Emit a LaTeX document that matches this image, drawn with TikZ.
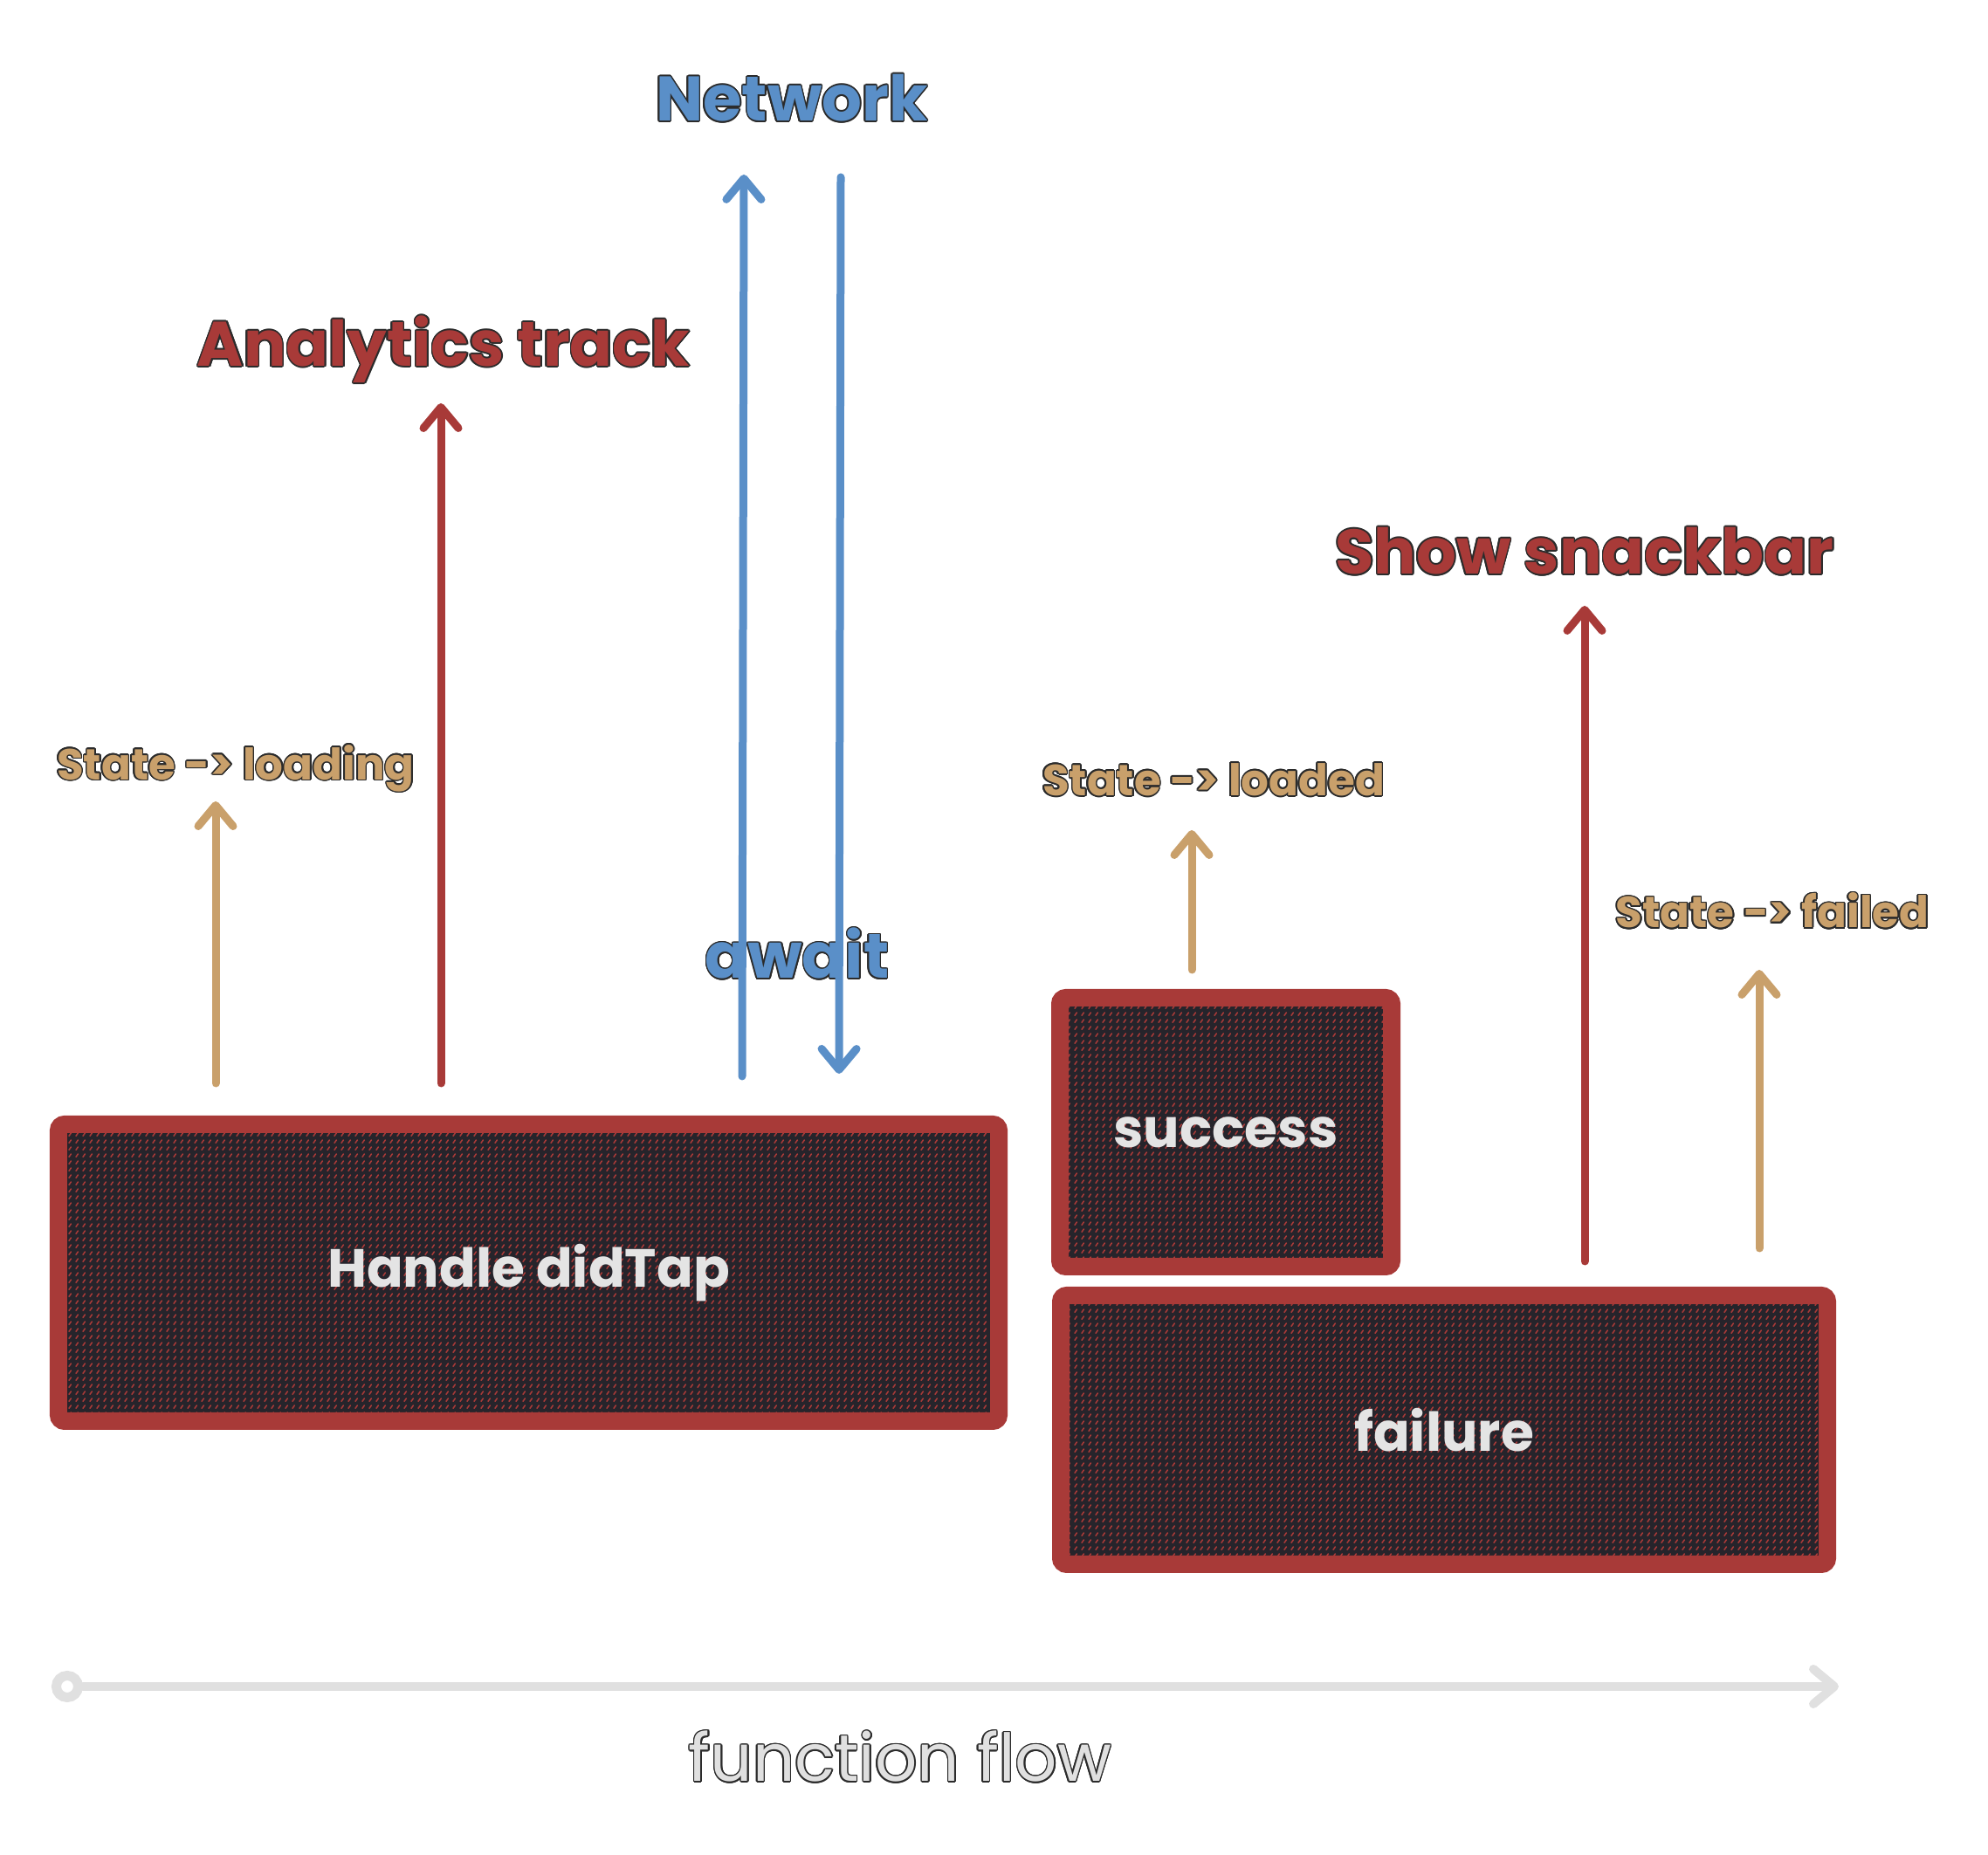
\documentclass[tikz,border=0pt]{standalone}
\usepackage{fontspec}
\setmainfont{Poppins}
\usepackage{contour}
\usetikzlibrary{arrows.meta, patterns.meta}
\definecolor{boxred}{HTML}{A83A38}
\definecolor{boxdark}{HTML}{26242B}
\definecolor{boxtext}{HTML}{E4E4E4}
\definecolor{netblue}{HTML}{5A8FC8}
\definecolor{statetan}{HTML}{C9A06B}
\definecolor{flowgray}{HTML}{E0E0E0}
\definecolor{inkline}{HTML}{2B2B2B}
\contourlength{0.45pt}
\newcommand{\outl}[1]{\contour{inkline}{#1}}

\tikzdeclarepattern{
  name=hatchdash, type=uncolored,
  bounding box={(0pt,0pt) and (2.2pt,2.2pt)},
  tile size={(2.2pt,2.2pt)},
  code={\draw[line width=0.45pt, line cap=round] (0.6pt,0.5pt) -- (1.3pt,1.5pt);}
}

\begin{document}
\begin{tikzpicture}[
    blockbox/.style={draw=boxred, line width=0.2cm, rounded corners=2pt, fill=boxdark,
      postaction={pattern=hatchdash, pattern color=boxred},
      text=boxtext, inner sep=0pt, font=\fontsize{17.5}{20}\selectfont\bfseries},
    biglabel/.style={inner sep=0pt, font=\fontsize{20.5}{23}\selectfont\bfseries},
    statelabel/.style={inner sep=0pt, text=statetan, font=\fontsize{14.2}{16}\selectfont\bfseries},
    flowlabel/.style={inner sep=0pt, text=flowgray, font=\fontsize{21.5}{24}\selectfont},
    flowarrow/.style={line width=0.09cm, line cap=round, -{Straight Barb[round, length=0.24cm, width=0.4cm]}},
  ]
    \useasboundingbox (0,0) rectangle (22.77,21.25);

    % the three blocks
    \node[blockbox, minimum width=10.77cm, minimum height=3.40cm] (handle) at (6.055, 6.67) {Handle didTap};
    \node[blockbox, minimum width=3.80cm, minimum height=3.08cm] (success) at (14.04, 8.28) {success};
    \node[blockbox, minimum width=8.78cm, minimum height=3.08cm] (failure) at (16.54, 4.87) {failure};

    % labels
    \node[biglabel, text=netblue] (network) at (9.07, 20.12) {\outl{Network}};
    \node[biglabel, text=netblue] (await) at (9.13, 10.32) {\outl{await}};
    \node[biglabel, text=boxred] (analytics) at (5.08, 17.24) {\outl{Analytics track}};
    \node[biglabel, text=boxred] (snackbar) at (18.15, 14.93) {\outl{Show snackbar}};
    \node[statelabel] (loading) at (2.70, 12.44) {\outl{State -> loading}};
    \node[statelabel] (loaded) at (13.90, 12.31) {\outl{State -> loaded}};
    \node[statelabel] (failed) at (20.30, 10.81) {\outl{State -> failed}};

    % arrow ends
    \coordinate (loadingfoot) at (2.47, 8.84);
    \coordinate (loadingtip) at (2.47, 12.07);
    \coordinate (analyticsfoot) at (5.05, 8.84);
    \coordinate (analyticstip) at (5.05, 16.63);
    \coordinate (callfoot) at (8.50, 8.92);
    \coordinate (calltip) at (8.52, 19.25);
    \coordinate (replyfoot) at (9.63, 19.22);
    \coordinate (replytip) at (9.61, 8.95);
    \coordinate (loadedfoot) at (13.65, 10.14);
    \coordinate (loadedtip) at (13.65, 11.74);
    \coordinate (snackbarfoot) at (18.15, 6.80);
    \coordinate (snackbartip) at (18.15, 14.31);
    \coordinate (failedfoot) at (20.15, 6.95);
    \coordinate (failedtip) at (20.15, 10.14);

    \draw[flowarrow, statetan] (loadingfoot) -- (loadingtip);
    \draw[flowarrow, boxred] (analyticsfoot) -- (analyticstip);
    \draw[flowarrow, netblue] (callfoot) -- (calltip);
    \draw[flowarrow, netblue] (replyfoot) -- (replytip);
    \draw[flowarrow, statetan] (loadedfoot) -- (loadedtip);
    \draw[flowarrow, boxred] (snackbarfoot) -- (snackbartip);
    \draw[flowarrow, statetan] (failedfoot) -- (failedtip);

    % function flow axis
    \node[circle, draw=flowgray, line width=0.11cm, minimum size=0.25cm, inner sep=0pt] (flowstart) at (0.77, 1.93) {};
    \coordinate (flowend) at (21.06, 1.93);
    \draw[flowgray, line width=0.1cm, line cap=round, -{Straight Barb[round, length=0.24cm, width=0.4cm]}] (flowstart) -- (flowend);
    \node[flowlabel] (flow) at (10.31, 1.12) {\outl{function flow}};

\end{tikzpicture}
\end{document}
